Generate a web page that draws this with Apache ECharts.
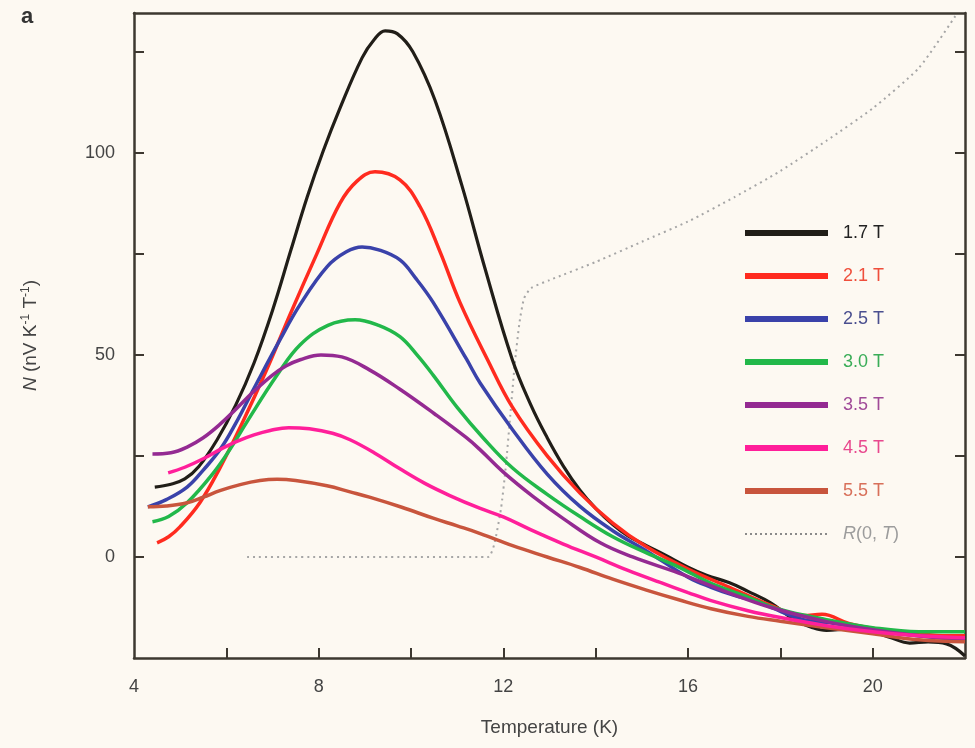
<!DOCTYPE html>
<html>
<head>
<meta charset="utf-8">
<script src="https://cdn.jsdelivr.net/npm/echarts@6/dist/echarts.min.js"></script>
<style>
  html, body { margin: 0; padding: 0; background: #fdf9f2; }
  #chart { width: 975px; height: 748px; }
</style>
</head>
<body>
<div id="chart"></div>
<script>
// Nernst signal N versus temperature for several magnetic fields
const fieldNames = ['1.7 T', '2.1 T', '2.5 T', '3.0 T', '3.5 T', '4.5 T', '5.5 T'];
const resistName = 'R(0, T)';

const t17 = [4.45, 4.8, 5.1, 5.4, 5.8, 6.2, 6.6, 7.0, 7.4, 7.75, 8.1, 8.46, 8.94, 9.2, 9.44, 9.7, 10.04, 10.52, 11.1, 11.6, 12.19, 12.6, 12.95, 13.3, 13.66, 14.0, 14.37, 14.7, 15.1, 15.5, 16.0, 16.4, 16.9, 17.3, 17.8, 18.3, 18.7, 19.0, 19.5, 20.0, 20.4, 20.8, 21.2, 21.6, 22.0];
const n17 = [17.3, 18, 19.3, 22.3, 29, 37.5, 48, 61, 76, 89, 100.5, 111, 123.5, 128, 130.2, 129.5, 125, 113, 92, 71.5, 49, 37.5, 29.5, 22.5, 16.5, 12, 8, 5.2, 2.8, 0.5, -2.5, -4.5, -6.4, -8.5, -11.4, -15.5, -17.5, -18.2, -17.8, -18.5, -20, -21.3, -21, -21.5, -24.5];

const t21 = [4.5, 4.75, 5.0, 5.43, 5.86, 6.36, 6.88, 7.4, 7.96, 8.46, 8.83, 9.22, 9.76, 10.2, 10.63, 11.06, 11.65, 12.2, 12.95, 13.66, 14.37, 15.1, 16.0, 16.9, 17.8, 18.5, 18.9, 19.5, 20.2, 21.0, 21.6, 22.0];
const n21 = [3.5, 5, 7.5, 13.5, 22, 33.5, 46.5, 60.5, 75, 87.5, 93, 95.3, 93.3, 86.6, 75.5, 63, 49, 37, 25, 15.8, 8.4, 2.5, -3, -7.5, -12, -14.5, -14.2, -16.5, -18, -19, -19.5, -19.5];

const t25 = [4.3, 4.7, 5.15, 5.5, 5.86, 6.2, 6.58, 7.16, 7.6, 8.18, 8.6, 8.94, 9.3, 9.76, 10.1, 10.48, 11.2, 11.5, 12.2, 12.95, 13.66, 14.37, 15.1, 16.0, 16.5, 17.0, 17.5, 17.8, 18.5, 19.2, 20.0, 21.0, 22.0];
const n25 = [12.4, 14.2, 17.3, 21.5, 26.5, 33, 41.3, 53.7, 62.5, 71.8, 75.5, 76.7, 76, 73.5, 69, 63, 49, 43, 31.5, 20.5, 12.5, 6.5, 1.5, -5, -7.5, -9.5, -11, -12.5, -15.5, -16.5, -18, -19.5, -20.5];

const t30 = [4.4, 4.75, 5.15, 5.7, 6.1, 6.45, 7.1, 7.6, 8.2, 8.79, 9.3, 9.76, 10.13, 10.48, 11.0, 11.56, 12.2, 12.95, 13.66, 14.37, 15.1, 15.8, 16.5, 17.2, 18.0, 19.0, 20.0, 21.0, 22.0];
const n30 = [8.7, 10, 13.4, 20.5, 27, 33.5, 45, 52.5, 57.3, 58.7, 57.3, 54.5, 50, 45, 37, 29.5, 22, 15.5, 10, 5, 1, -2.5, -6.5, -9.5, -13, -15.5, -17.5, -18.5, -18.5];

const t35 = [4.4, 4.8, 5.15, 5.5, 5.86, 6.2, 6.58, 7.0, 7.3, 7.6, 8.05, 8.5, 9.1, 9.76, 10.5, 11.2, 11.5, 12.0, 12.64, 13.3, 14.1, 14.8, 15.8, 16.8, 17.8, 19.0, 20.0, 21.0, 22.0];
const n35 = [25.5, 25.8, 27.2, 29.5, 32.8, 36.5, 40.8, 45, 47.3, 48.8, 50, 49.5, 46.3, 41.5, 35.5, 29.5, 26.5, 21, 15, 9.5, 3.5, 0, -4, -8.5, -12.5, -16, -18, -19.5, -20.5];

const t45 = [4.74, 5.1, 5.5, 5.9, 6.23, 6.6, 6.95, 7.35, 7.8, 8.3, 8.68, 9.2, 9.76, 10.3, 10.84, 11.5, 12.0, 12.6, 13.3, 14.0, 14.7, 15.4, 16.0, 16.5, 17.3, 18.0, 19.0, 20.0, 21.0, 22.0];
const n45 = [20.8, 22.2, 24.3, 26.8, 28.6, 30.2, 31.3, 32, 31.7, 30.6, 29, 25.8, 21.8, 18.2, 15.2, 12, 9.9, 6.7, 3.2, 0, -3.3, -6.3, -8.8, -10.8, -13.3, -15, -17, -18.5, -19.5, -20];

const t55 = [4.3, 4.7, 5.15, 5.5, 5.86, 6.3, 6.73, 7.1, 7.5, 8.18, 8.68, 9.1, 9.8, 10.48, 11.0, 11.5, 12.2, 12.95, 13.66, 14.37, 15.1, 15.8, 16.5, 17.3, 18.0, 19.0, 20.0, 21.0, 22.0];
const n55 = [12.4, 12.6, 13.4, 14.8, 16.4, 17.9, 18.9, 19.2, 18.9, 17.6, 16.1, 14.8, 12.3, 9.6, 7.7, 5.8, 2.8, 0, -2.6, -5.5, -8.2, -10.6, -12.8, -14.7, -15.9, -17.5, -19, -20.5, -21];

// zero-field resistance, drawn in the same frame (arbitrary units)
const tR = [6.45, 8, 10, 11.67, 11.8, 11.95, 12.05, 12.15, 12.25, 12.35, 12.45, 12.6, 13.0, 14.0, 15.0, 16.0, 17.0, 18.0, 19.0, 20.0, 21.0, 21.8];
const nR = [0, 0, 0, 0, 3, 12, 22, 35, 48, 58, 64, 66.5, 68.5, 73, 78, 83, 89, 95.5, 103, 111, 121, 134];

const xTicks = [6, 8, 10, 12, 14, 16, 18, 20];
const xLabels = [4, 8, 12, 16, 20];
const yTicks = [0, 25, 50, 75, 100, 125];
const yLabels = [0, 50, 100];

const lineColors = ['#211e18', '#ff2b1f', '#3a42aa', '#22b84a', '#942a92', '#ff1f9a', '#c8553d'];
const textColors = ['#222222', '#ef4f3c', '#4a4f8f', '#3aad58', '#a04a98', '#e8488e', '#d8705a'];
const fieldT = [t17, t21, t25, t30, t35, t45, t55];
const fieldN = [n17, n21, n25, n30, n35, n45, n55];

const zip = (xs, ys) => xs.map((x, i) => [x, ys[i]]);

const AXIS = '#3d3830';
const FONT = '"Liberation Sans", Arial, Helvetica, sans-serif';

const series = [{
  name: resistName,
  type: 'line',
  data: zip(tR, nR),
  symbol: 'none',
  smooth: 0.2,
  z: 1,
  lineStyle: { color: '#a6a6a6', width: 2, type: [2, 4] },
  itemStyle: { color: '#a6a6a6' }
}];
// draw order: black at the bottom, pink on top
const drawOrder = [0, 1, 2, 3, 4, 6, 5];
drawOrder.forEach((k, j) => {
  series.push({
    name: fieldNames[k],
    type: 'line',
    data: zip(fieldT[k], fieldN[k]),
    symbol: 'none',
    smooth: 0.4,
    z: 2 + j,
    lineStyle: { color: lineColors[k], width: k === 0 ? 3.2 : 3.5 },
    itemStyle: { color: lineColors[k] }
  });
});

const noMarker = { opacity: 0, borderWidth: 0 };
const legendData = fieldNames.map((n, k) => ({
  name: n,
  itemStyle: noMarker,
  lineStyle: { width: 6, color: lineColors[k] },
  textStyle: { color: textColors[k] }
}));
legendData.push({
  name: resistName,
  itemStyle: noMarker,
  lineStyle: { width: 2, color: '#8a8a8a', type: [2, 3] },
  textStyle: { color: '#9c9c9c' }
});

const chart = echarts.init(document.getElementById('chart'), null, { renderer: 'canvas' });
chart.setOption({
  backgroundColor: '#fdf9f2',
  animation: false,
  textStyle: { fontFamily: FONT },
  grid: { left: 134, right: 10, top: 13, bottom: 90, containLabel: false },
  graphic: [{
    type: 'text', left: 21, top: 6,
    style: { text: 'a', font: 'bold 22px ' + FONT, fill: '#333333' }
  }],
  legend: {
    data: legendData,
    orient: 'vertical',
    left: 742,
    top: 224,
    padding: 0,
    itemWidth: 83,
    itemHeight: 14,
    itemGap: 25,
    selectedMode: false,
    formatter: name => name === resistName ? '{i|R}(0, {i|T})' : name,
    textStyle: {
      fontSize: 18,
      fontFamily: FONT,
      padding: [0, 0, 0, 10],
      rich: { i: { fontStyle: 'italic', fontSize: 18, fontFamily: FONT } }
    }
  },
  xAxis: [{
    type: 'value', min: 4, max: 22,
    name: 'Temperature (K)',
    nameLocation: 'middle', nameGap: 60,
    nameTextStyle: { fontSize: 19, color: '#444444', fontFamily: FONT },
    axisLine: { show: true, onZero: false, lineStyle: { color: AXIS, width: 2.5 } },
    axisTick: { show: true, inside: true, length: 10, customValues: xTicks, lineStyle: { color: AXIS, width: 2 } },
    axisLabel: { customValues: xLabels, margin: 20, fontSize: 18, color: '#444444', fontFamily: FONT },
    splitLine: { show: false }
  }, {
    type: 'value', min: 4, max: 22, position: 'top',
    axisLine: { show: true, onZero: false, lineStyle: { color: AXIS, width: 2.5 } },
    axisTick: { show: false }, axisLabel: { show: false }, splitLine: { show: false }
  }],
  yAxis: [{
    type: 'value', min: -25, max: 134.6,
    name: '{n|N} (nV K{s|-1} T{s|-1})',
    nameLocation: 'middle', nameGap: 92, nameRotate: 90,
    nameTextStyle: {
      fontSize: 19, color: '#444444', fontFamily: FONT, lineHeight: 22,
      rich: {
        n: { fontStyle: 'italic', fontSize: 19, color: '#444444', fontFamily: FONT, lineHeight: 22 },
        s: { fontSize: 12, color: '#444444', fontFamily: FONT, verticalAlign: 'top', lineHeight: 22 }
      }
    },
    axisLine: { show: true, onZero: false, lineStyle: { color: AXIS, width: 2.5 } },
    axisTick: { show: true, inside: true, length: 10, customValues: yTicks, lineStyle: { color: AXIS, width: 2 } },
    axisLabel: { customValues: yLabels, margin: 19, fontSize: 18, color: '#444444', fontFamily: FONT },
    splitLine: { show: false }
  }, {
    type: 'value', min: -25, max: 134.6, position: 'right',
    axisLine: { show: true, onZero: false, lineStyle: { color: AXIS, width: 2.5 } },
    axisTick: { show: true, inside: true, length: 10, customValues: yTicks, lineStyle: { color: AXIS, width: 2 } },
    axisLabel: { show: false }, splitLine: { show: false }
  }],
  series: series
});
</script>
</body>
</html>
